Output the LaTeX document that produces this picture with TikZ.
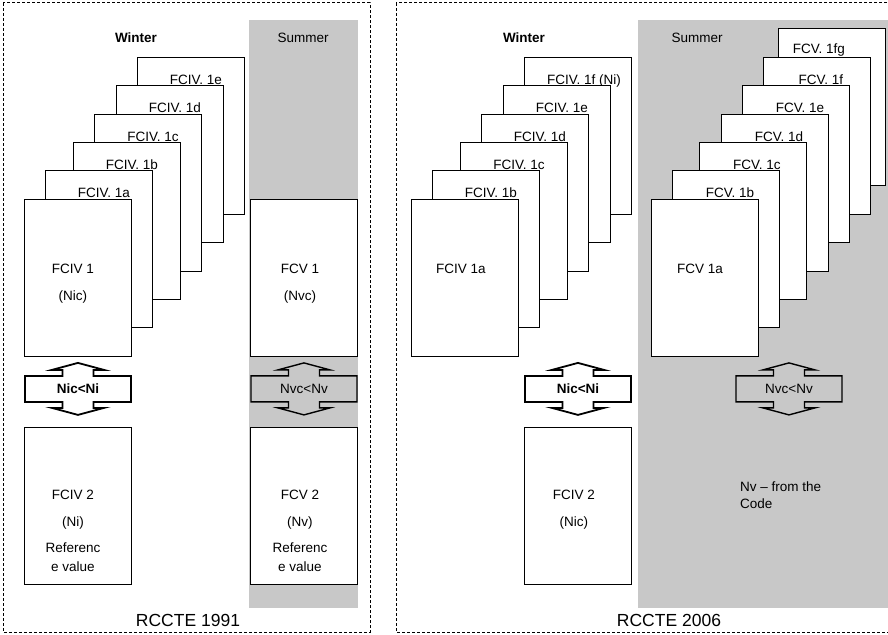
\documentclass[tikz,border=0pt]{standalone}
\usepackage{fontspec}
\setmainfont{Liberation Sans}
\usetikzlibrary{calc}

\definecolor{summergray}{RGB}{200,200,200}

\tikzset{
  pics/updown/.style={code={
    \draw[#1] (-53,-13) -- (-15.5,-13) -- (-15.5,-19) -- (-26,-19) -- (0,-26) -- (26,-19) -- (15.5,-19) -- (15.5,-13)
      -- (53,-13) -- (53,13) -- (15.5,13) -- (15.5,19) -- (26,19) -- (0,26) -- (-26,19) -- (-15.5,19) -- (-15.5,13) -- (-53,13) -- cycle;
  }}
}

\begin{document}
\begin{tikzpicture}[x=1pt, y=-1pt,
    panel/.style={draw, line width=1pt, dash pattern=on 3pt off 2pt},
    sheet/.style={draw, fill=white, line width=0.9pt, minimum width=107pt, minimum height=157pt, anchor=north west, inner sep=0pt},
    txt/.style={font=\fontsize{13.5}{16}\selectfont, inner sep=0pt},
    boldtxt/.style={font=\bfseries\fontsize{13.5}{16}\selectfont, inner sep=0pt},
    reftxt/.style={font=\fontsize{13.5}{19}\selectfont, inner sep=0pt, align=center},
    title/.style={font=\fontsize{17.5}{20}\selectfont, anchor=base, inner sep=0pt},
    winterarrow/.style={draw=black, fill=white, line width=1.8pt},
    summerarrow/.style={draw=black, fill=summergray, line width=1.4pt}
]
\useasboundingbox (0,0) rectangle (888,634);

% Panels
\draw[panel] (3,3) rectangle (370,632);
\draw[panel] (396,3) rectangle (890,632);
\fill[summergray] (249,20) rectangle (358,608);
\fill[summergray] (638,20) rectangle (890,608);

\node[title] (t91) at (188,626) {RCCTE 1991};
\node[title] (t06) at (669,626) {RCCTE 2006};

% Season headings
\node[boldtxt, anchor=base] (win91) at (136,43) {Winter};
\node[txt, anchor=base] (sum91) at (303,43) {Summer};
\node[boldtxt, anchor=base] (win06) at (524,43) {Winter};
\node[txt, anchor=base] (sum06) at (697,43) {Summer};

% RCCTE 1991, winter stack
\foreach \dx/\dy/\nm in {113/-142/e, 92/-114/d, 70/-85/c, 49/-57/b, 21/-29/a} {
  \node[sheet] (w91\nm) at (24+\dx,199+\dy) {};
  \node[txt, anchor=base] at ($(w91\nm.north)+(5,27)$) {FCIV. 1\nm};
}
\node[sheet] (w91) at (24,199) {};
\node[txt] at ($(w91.north)+(-5,70)$) {FCIV 1};
\node[txt] at ($(w91.north)+(-5,98)$) {(Nic)};

\pic at ($(w91.south)+(0,32)$) {updown=winterarrow};
\node[boldtxt] (cmp91w) at ($(w91.south)+(0,32)$) {Nic<Ni};

\node[sheet] (w91ref) at (24,427) {};
\node[txt] at ($(w91ref.north)+(-5,68)$) {FCIV 2};
\node[txt] at ($(w91ref.north)+(-5,96)$) {(Ni)};
\node[reftxt] at ($(w91ref.north)+(-5,130)$) {Referenc\\e value};

% RCCTE 1991, summer
\node[sheet] (s91) at (250,199) {};
\node[txt] at ($(s91.north)+(-4,70)$) {FCV 1};
\node[txt] at ($(s91.north)+(-4,98)$) {(Nvc)};

\pic at ($(s91.south)+(0,32)$) {updown=summerarrow};
\node[txt] (cmp91s) at ($(s91.south)+(0,32)$) {Nvc<Nv};

\node[sheet] (s91ref) at (250,427) {};
\node[txt] at ($(s91ref.north)+(-4,68)$) {FCV 2};
\node[txt] at ($(s91ref.north)+(-4,96)$) {(Nv)};
\node[reftxt] at ($(s91ref.north)+(-4,130)$) {Referenc\\e value};

% RCCTE 2006, winter stack
\node[sheet] (w06f) at (524,57) {};
\node[txt, anchor=base] at ($(w06f.north)+(6,27)$) {FCIV. 1f (Ni)};
\foreach \dx/\dy/\nm in {92/-114/e, 70/-85/d, 49/-57/c, 21/-29/b} {
  \node[sheet] (w06\nm) at (411+\dx,199+\dy) {};
  \node[txt, anchor=base] at ($(w06\nm.north)+(5,27)$) {FCIV. 1\nm};
}
\node[sheet] (w06) at (411,199) {};
\node[txt] at ($(w06.center)+(-4,-9)$) {FCIV 1a};

\pic at ($(w06.south)+(113,32)$) {updown=winterarrow};
\node[boldtxt] (cmp06w) at ($(w06.south)+(113,32)$) {Nic<Ni};

\node[sheet] (w06ref) at (524,427) {};
\node[txt] at ($(w06ref.north)+(-4,68)$) {FCIV 2};
\node[txt] at ($(w06ref.north)+(-4,96)$) {(Nic)};

% RCCTE 2006, summer stack
\node[sheet] (s06fg) at (778,28) {};
\node[txt, anchor=base] at ($(s06fg.north)+(-13,25)$) {FCV. 1fg};
\foreach \dx/\dy/\nm in {112/-142/f, 91/-114/e, 70/-85/d, 48/-57/c, 21/-29/b} {
  \node[sheet] (s06\nm) at (651+\dx,199+\dy) {};
  \node[txt, anchor=base] at ($(s06\nm.north)+(4,27)$) {FCV. 1\nm};
}
\node[sheet] (s06) at (651,199) {};
\node[txt] at ($(s06.center)+(-5,-9)$) {FCV 1a};

\pic at ($(s06.south)+(84,32)$) {updown=summerarrow};
\node[txt] (cmp06s) at ($(s06.south)+(84,32)$) {Nvc<Nv};

\node[txt, anchor=north west, align=left, font=\fontsize{13.5}{17}\selectfont] (nvcode) at (740,482) {Nv -- from the\\Code};

\end{tikzpicture}
\end{document}
